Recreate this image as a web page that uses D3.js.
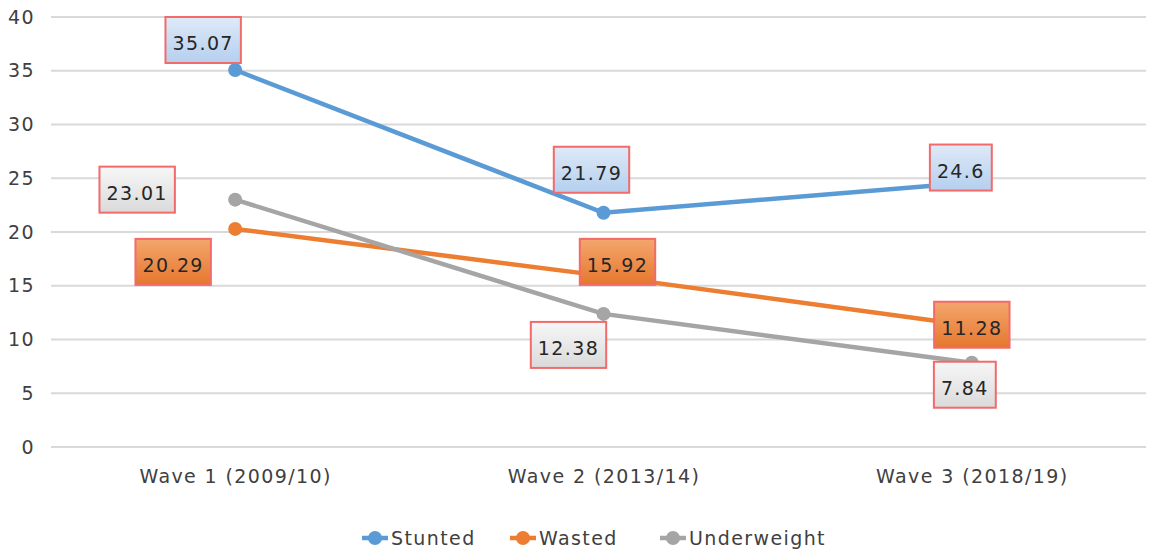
<!DOCTYPE html>
<html>
<head>
<meta charset="utf-8">
<script src="https://cdn.jsdelivr.net/npm/d3@7"></script>
<style>
  body { margin: 0; background: #fff; }
  text { font-family: "DejaVu Sans", sans-serif; letter-spacing: 1.4px; }
</style>
</head>
<body>
<script>
// data
var waves = ['Wave 1 (2009/10)', 'Wave 2 (2013/14)', 'Wave 3 (2018/19)'];
var seriesNames = ['Stunted', 'Wasted', 'Underweight'];
var stunted = [35.07, 21.79, 24.6];
var wasted = [20.29, 15.92, 11.28];
var underweight = [23.01, 12.38, 7.84];
var yTicks = [0, 5, 10, 15, 20, 25, 30, 35, 40];

// layout of the data-label boxes (offset of box centre from the point)
var labelOffsets = [
    [[-32, -30], [-12, -43], [-11, -15]],
    [[-62, 33], [14, -14], [0, -1]],
    [[-98, -10], [-35, 31], [-7, 22]]
];

var colors = ['#5b9bd5', '#ed7d31', '#a5a5a5'];
var allSeries = [stunted, wasted, underweight];

var W = 1150, H = 554;
var svg = d3.select('body').append('svg')
    .attr('width', W)
    .attr('height', H);

var defs = svg.append('defs');
var grads = [['#dfeaf8', '#b4cfee'], ['#f4a66e', '#e5772e'], ['#f7f7f7', '#dadada']];
grads.forEach(function(g, i) {
    var lg = defs.append('linearGradient')
        .attr('id', 'g' + i)
        .attr('x1', 0).attr('y1', 0).attr('x2', 0).attr('y2', 1);
    lg.append('stop').attr('offset', '0%').attr('stop-color', g[0]);
    lg.append('stop').attr('offset', '100%').attr('stop-color', g[1]);
});

var x = d3.scalePoint()
    .domain(waves)
    .range([51, 1156])
    .padding(0.5);

var y = d3.scaleLinear()
    .domain([0, 40])
    .range([447, 17]);

// gridlines
svg.append('g')
    .selectAll('line')
    .data(yTicks)
    .enter().append('line')
    .attr('x1', 51)
    .attr('x2', 1146)
    .attr('y1', function(d) { return y(d); })
    .attr('y2', function(d) { return y(d); })
    .attr('stroke', '#d9d9d9')
    .attr('stroke-width', 2);

// y axis labels
var yAxis = svg.append('g')
    .attr('transform', 'translate(35,0)')
    .call(d3.axisLeft(y).tickValues(yTicks).tickSize(0).tickPadding(0));
yAxis.select('.domain').remove();
yAxis.selectAll('text')
    .attr('font-size', 19)
    .attr('fill', '#404040')
    .style('font-family', '"DejaVu Sans", sans-serif');

// x axis labels
var xAxis = svg.append('g')
    .attr('transform', 'translate(0,469)')
    .call(d3.axisBottom(x).tickSize(0).tickPadding(0));
xAxis.select('.domain').remove();
xAxis.selectAll('text')
    .attr('font-size', 19)
    .attr('fill', '#404040')
    .style('font-family', '"DejaVu Sans", sans-serif');

var line = d3.line()
    .x(function(d, i) { return x(waves[i]); })
    .y(function(d) { return y(d); });

allSeries.forEach(function(s, k) {
    svg.append('path')
        .datum(s)
        .attr('d', line)
        .attr('fill', 'none')
        .attr('stroke', colors[k])
        .attr('stroke-width', 4.5)
        .attr('stroke-linecap', 'round');

    svg.append('g')
        .selectAll('circle')
        .data(s)
        .enter().append('circle')
        .attr('cx', function(d, i) { return x(waves[i]); })
        .attr('cy', function(d) { return y(d); })
        .attr('r', 7)
        .attr('fill', colors[k]);
});

// data labels
allSeries.forEach(function(s, k) {
    var g = svg.append('g');
    s.forEach(function(v, i) {
        var cx = x(waves[i]) + labelOffsets[k][i][0];
        var cy = y(v) + labelOffsets[k][i][1];
        var lab = g.append('g').attr('transform', 'translate(' + cx + ',' + cy + ')');
        var t = lab.append('text')
            .attr('text-anchor', 'middle')
            .attr('y', 10)
            .attr('font-size', 19)
            .attr('fill', '#262626')
            .text(v);
        var w = t.node().getComputedTextLength() + 14;
        lab.insert('rect', 'text')
            .attr('x', -w / 2)
            .attr('y', -23)
            .attr('width', w)
            .attr('height', 46)
            .attr('fill', 'url(#g' + k + ')')
            .attr('stroke', '#f26a6a')
            .attr('stroke-width', 2);
    });
});

// legend
var legendX = [362, 510, 660];
var legend = svg.append('g');
seriesNames.forEach(function(name, k) {
    var lg = legend.append('g').attr('transform', 'translate(' + legendX[k] + ',538)');
    lg.append('line')
        .attr('x1', 0).attr('x2', 26)
        .attr('stroke', colors[k])
        .attr('stroke-width', 4.5);
    lg.append('circle')
        .attr('cx', 13).attr('r', 7)
        .attr('fill', colors[k]);
    lg.append('text')
        .attr('x', 29)
        .attr('y', 7)
        .attr('font-size', 19)
        .attr('fill', '#404040')
        .text(name);
});
</script>
</body>
</html>
